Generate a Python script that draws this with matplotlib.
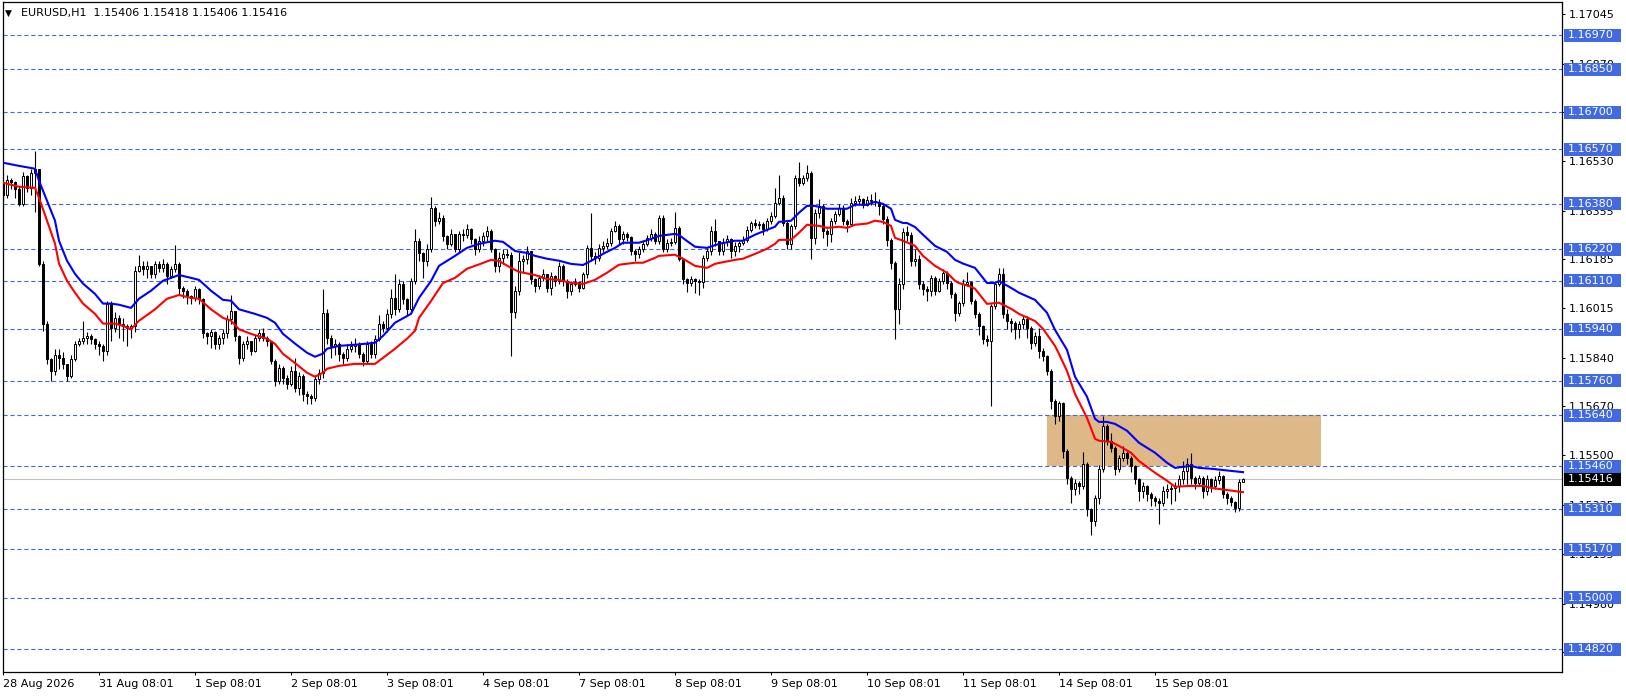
import matplotlib
matplotlib.use("Agg")
import matplotlib.pyplot as plt
from matplotlib.patches import Rectangle
from matplotlib.transforms import blended_transform_factory

# EURUSD H1 candles, stored as pips above 1.15000, open = previous close
base = 1.15
pip = 0.0001
first_open = 145

closes = [141, 146.3, 145.5, 143, 138, 147.7, 143.5, 148.7, 150, 117,
          96, 83.6, 79.5, 85, 84, 82, 77.7, 83.6, 89, 90,
          91, 91.5, 90.5, 89, 88, 86.5, 103, 94.5, 98, 96,
          95, 94.5, 95, 114.5, 116, 115, 116, 113.5, 117, 115.5,
          117, 112.7, 115, 117, 108.5, 107.5, 105.7, 105, 108, 104.7,
          92.7, 91.7, 93, 89, 91, 92.7, 97.6, 100.5, 91.7, 84,
          89, 90, 86.5, 91, 92.7, 91, 90, 83, 76, 80.5,
          77, 75, 79.5, 73.5, 77.7, 71.4, 70.7, 70, 76.6, 78.8,
          99.7, 91, 88, 89, 85.4, 84, 87, 88.2, 89, 85.4,
          83, 89, 85.4, 90.7, 96, 94.5, 99.4, 105, 101, 110,
          104.7, 101, 111, 125, 120.7, 118, 122, 136.5, 132, 133,
          126.7, 123.9, 127.4, 122, 127.4, 127, 129, 125.6, 122, 125,
          126.5, 128.5, 122, 116, 119, 120.5, 120, 100, 107.5, 118,
          118.5, 121.5, 111.6, 109, 112, 113.4, 108.5, 112.7, 111, 116,
          111, 107.5, 110, 110.5, 108.5, 113.4, 122.5, 119.7, 119, 122.5,
          123.2, 124.3, 128.5, 130, 125.6, 127.4, 126.2, 121.5, 120.4, 122,
          123.9, 126, 127.4, 125, 133, 122, 124.3, 124.6, 129.5, 118.7,
          111.6, 110.2, 111.6, 110.9, 110.6, 119, 121.5, 128.5, 125, 121.5,
          124.6, 125.6, 121.5, 123.2, 124.3, 125.3, 128.8, 131.2, 130.5, 130.9,
          129, 132, 133.7, 138.2, 140, 131.2, 123.9, 130.2, 147, 145.3,
          147, 148.8, 126, 134.8, 137.2, 128.5, 127.5, 132, 134.4, 136.5,
          132, 130.9, 138.2, 139, 139.5, 137.6, 139.3, 139, 138.5, 137,
          132.7, 125.3, 117.3, 101.2, 110, 128, 127, 118, 118.7, 110,
          108, 107.5, 112, 107.5, 111, 113.8, 110.2, 106.4, 99.7, 103.2,
          110, 110.5, 104, 99.4, 95.2, 90.7, 90, 102.2, 110, 113.4,
          99.4, 97, 96.3, 94.2, 95.9, 97.6, 94.5, 89.2, 91.7, 86.5,
          84.7, 79.4, 69, 63.7, 68.2, 51.5, 42, 38.2, 40.2, 39,
          47, 31, 27, 35, 45, 60.2, 55, 52.5, 45, 49,
          50.8, 49, 46.2, 41.6, 37.5, 39.2, 36.4, 35, 34, 33.3,
          37.5, 38, 38.5, 39, 41.6, 44.5, 47, 42, 40.2, 42,
          37.5, 41.5, 39, 41.3, 42.5, 36.4, 35, 33.6, 31.5, 40.6,
          41.6]

highs = [146, 148, 147, 146, 144, 149, 148, 150, 156.5, 150,
         118, 97, 84, 87, 87, 86, 82, 85, 90, 91,
         97, 93, 92.5, 91, 90, 89, 104, 104, 100, 99,
         98, 96, 96, 116, 120, 118, 118, 116, 118, 118,
         118.5, 117.5, 116, 123.5, 117.5, 109, 108, 106, 109, 108.5,
         105, 93, 94, 93.5, 92, 94, 99, 106, 100, 92,
         90, 91.5, 90, 92, 94, 94.5, 91.5, 90, 83.5, 82,
         81, 78, 81, 84, 79, 78.5, 72.5, 71.5, 78, 80,
         108, 101, 92, 90.5, 89.5, 86, 89, 90, 91, 89.5,
         86, 90, 90, 92, 99, 97, 101, 108, 113.4, 111.5,
         111, 105, 112, 129, 126, 121, 124, 140.3, 137, 135,
         134, 127, 129, 127.5, 128.5, 129, 131, 129.5, 126, 126.5,
         128, 130, 129, 122.5, 121, 122, 122, 121, 109, 121,
         120, 123, 121, 112, 113, 115, 113.5, 114, 113, 117.5,
         117, 111.5, 111, 112, 111, 114, 123.5, 134.8, 121, 124,
         125, 126, 129.5, 132, 131, 128.5, 128, 126.5, 122, 123,
         125, 127, 129, 128, 134, 134, 125.5, 126, 135, 130,
         119, 112, 112.5, 112, 111.5, 120, 122.5, 130, 132.7, 125,
         126, 127, 126, 124.5, 125, 126.5, 130, 132, 132.5, 132,
         131.5, 133, 135, 143.5, 148, 141, 132, 131, 148, 152.4,
         148, 151.6, 149.5, 136, 139.5, 138, 129, 133, 135.5, 138,
         137.5, 132.5, 140, 140.5, 141, 140, 140.5, 141.5, 142, 139.5,
         138, 133.5, 126, 118, 112, 129.5, 130, 128, 122, 120,
         111, 109, 113, 112.5, 112, 115, 114.5, 111, 107, 104,
         111.5, 114, 111, 104.5, 100, 95.5, 92, 103, 111, 115.5,
         115.5, 101, 98, 97, 97, 99, 98.5, 95, 93, 94.5,
         87.5, 85, 80, 69.5, 69, 68.5, 52, 42.5, 41.5, 41,
         51, 47.5, 31.5, 36, 46.5, 63.7, 61, 57.7, 53, 50,
         53, 51.5, 49.5, 46.5, 42, 40.5, 39.5, 37, 35.5, 35,
         39, 40, 39.5, 40.5, 43, 48, 49, 50.8, 42.5, 43,
         42.5, 43, 42, 42.5, 44.5, 43, 37, 35.5, 34, 41.5,
         41.8]

lows = [139, 140, 143, 140, 137, 137, 142, 141, 135, 116,
        93.5, 82, 76, 78, 80, 80, 76, 77, 83, 88,
        89, 89, 89, 87, 85, 83, 85, 90, 93, 91,
        90, 88, 91, 93, 114, 113, 112, 112, 112, 114,
        114, 110, 112, 114, 106, 105, 103, 103, 104, 103,
        91, 89, 87.5, 87, 87, 89, 91, 96, 90, 82,
        83, 87, 85, 86, 90, 90, 88, 82, 74, 75,
        75, 73, 74, 72, 71, 69, 68, 68, 69, 75,
        77, 89, 84, 85, 83, 82, 83, 86, 86, 84,
        81, 82, 84, 84, 90, 93, 93, 98, 99, 100,
        103, 99, 100, 110, 118, 112, 116, 121, 130, 131,
        125, 122, 123, 121, 121, 125, 126, 124, 120, 121,
        123, 125, 121, 114, 114, 117, 119, 84.7, 98, 106,
        114, 117, 110, 107, 108, 111, 107, 106, 109, 110,
        109, 105, 106, 109, 107, 108, 112, 118, 117, 118,
        121, 122, 123, 128, 124, 124, 125, 120, 118, 119,
        121, 123, 125, 124, 124, 121, 121, 123, 124, 118,
        110, 107, 109, 106.7, 106, 108.5, 118, 120, 123, 120,
        120, 123, 119, 119.5, 121, 123.5, 124.5, 128, 129.5, 129,
        127, 128.5, 131, 133, 137.5, 130, 122, 122, 129, 144,
        144.5, 146, 118.7, 124, 133, 126, 123, 124.5, 131, 133.5,
        130.5, 128, 130, 137, 138, 136.5, 137, 137.5, 137, 134,
        131, 123, 115, 90.7, 96, 108, 125, 116, 116, 108,
        106, 104, 105.5, 106, 107, 110, 108, 105, 97, 98.5,
        102, 109, 103, 98, 92, 89, 88, 67.2, 101, 109,
        98, 94, 93, 90.7, 91, 94, 91, 87, 88, 84,
        83, 78, 66, 61, 62, 49, 40, 33.3, 36, 36.5,
        38, 28.7, 22, 25, 33, 44, 53.5, 51, 43, 44,
        48, 47, 44, 40, 34, 35, 34, 32, 32, 26,
        32, 35, 33, 34, 37, 40, 40, 40, 38, 39,
        35, 36, 37, 38, 40, 35, 33, 32, 30, 30.5,
        40.6]

# moving averages (bar index, pips above 1.15000)
blue_bars = [0, 4, 8, 9, 11, 13, 14, 16, 18, 20, 23, 25, 27, 29, 32, 34, 37, 40, 44, 47,
             49, 52, 55, 57, 59, 63, 66, 68, 70, 73, 76, 78, 80, 81, 84, 88, 91, 93, 95, 98,
             102, 104, 107, 109, 113, 116, 119, 123, 125, 127, 128, 131, 133, 136, 139, 142, 145, 148, 150, 153,
             155, 159, 162, 164, 168, 169, 171, 173, 176, 179, 183, 185, 188, 191, 193, 194, 197, 199, 201, 203,
             205, 206, 211, 213, 216, 218, 220, 222, 223, 225, 226, 228, 230, 233, 236, 238, 240, 243, 246, 248,
             249, 252, 254, 258, 261, 263, 266, 268, 271, 273, 274, 276, 278, 281, 284, 288, 291, 293, 297, 299,
             302, 310]
blue_ma = [152.3, 151.2, 150.2, 146, 139, 132, 125, 118, 113.4, 110, 106.4, 103, 103, 102.6, 101.5, 104.7, 107.5, 111, 113, 112,
           111.3, 107.5, 104.3, 104, 101, 99.4, 98, 96.3, 92.4, 89, 85.8, 84.4, 85.5, 87.2, 88.2, 88.6, 89, 89.3, 91.7, 96.3,
           99.4, 105, 110.9, 116.2, 119.7, 122.5, 123.9, 125, 124.6, 122.5, 121.4, 120.7, 119.7, 118.7, 118, 116.9, 116.5, 118.7, 120.4, 122.5,
           124.3, 124.3, 125.6, 126.7, 127.4, 127, 124.9, 122.9, 122.5, 123.9, 125, 125, 127.1, 128.8, 129.9, 131.6, 132, 134.8, 137.2, 137.2,
           136.5, 136.2, 136.2, 137.6, 137.6, 138.6, 137.9, 136.2, 132.3, 131.2, 131.2, 129.8, 127.1, 123.2, 121.1, 118.3, 117, 115.5, 110.2, 110.2,
           110.9, 108.5, 106.8, 104.3, 99.8, 93.8, 86.8, 77.4, 70.4, 62.7, 61.6, 61.6, 60.9, 58.5, 54.3, 50.8, 47.3, 45.5, 46.2, 45.5,
           45.2, 44]

red_bars = [0, 4, 8, 9, 11, 13, 14, 16, 18, 20, 23, 25, 28, 30, 32, 34, 38, 41, 44, 47,
            49, 52, 55, 57, 59, 62, 66, 68, 70, 73, 76, 78, 80, 81, 84, 88, 93, 95, 98, 101,
            103, 104, 107, 110, 113, 116, 119, 122, 124, 127, 129, 133, 136, 139, 142, 145, 148, 151, 154, 158,
            160, 163, 164, 168, 170, 173, 176, 178, 180, 183, 185, 188, 191, 193, 194, 197, 199, 201, 204, 206,
            209, 211, 213, 216, 218, 220, 222, 223, 225, 228, 230, 233, 236, 238, 239, 242, 243, 246, 249, 252,
            254, 258, 260, 263, 264, 266, 268, 271, 273, 274, 277, 279, 282, 284, 288, 291, 293, 297, 300, 302,
            310]
red_ma = [145.3, 143.9, 143.5, 140, 132, 124, 117, 111, 106.8, 103, 99.4, 96, 96, 95.2, 94, 97, 101, 104.7, 106, 105,
          104.7, 101, 98, 97, 94, 92.4, 90.7, 88.9, 85.4, 82.2, 78.8, 77.4, 78.8, 80.2, 81.2, 81.9, 81.9, 84, 87.2, 90.7,
          93.5, 98, 103.9, 110.2, 112, 115.2, 116.7, 118.3, 117.9, 115.5, 114.1, 113, 111.6, 111.3, 110.2, 109.9, 111.3, 113.8, 116.6, 117.3,
          117.3, 119, 119.7, 120.1, 118.7, 116.2, 115.5, 116.9, 117.5, 118.3, 118.7, 120.4, 122.2, 123.9, 125.3, 125.3, 127.8, 130.6, 130.2, 129.5,
          129.9, 129.5, 130.6, 131, 132, 131.6, 130.2, 126, 125, 123.2, 119.7, 116.2, 113.8, 111, 110.2, 108.9, 108.2, 102.9, 103.3, 101.2,
          99.4, 96.9, 94.2, 88.2, 85.4, 79.4, 71.4, 63, 55.7, 55, 54.6, 53.2, 50.8, 47.9, 43.8, 41, 38.9, 39.2, 39.2, 38.5,
          37]

# horizontal levels drawn on the chart
levels = [1.16970, 1.16850, 1.16700, 1.16570, 1.16380, 1.16220, 1.16110, 1.15940,
          1.15760, 1.15640, 1.15460, 1.15310, 1.15170, 1.15000, 1.14820]
price_ticks = [1.17045, 1.16870, 1.16700, 1.16530, 1.16355, 1.16185, 1.16015,
               1.15840, 1.15670, 1.15500, 1.15325, 1.15155, 1.14980, 1.14810]
bid = 1.15416
zone_top, zone_bottom = 1.15640, 1.15460
zone_start, zone_end = 261, 329.5

date_ticks = [0, 24, 48, 72, 96, 120, 144, 168, 192, 216, 240, 264, 288]
date_labels = ["28 Aug 2026", "31 Aug 08:01", "1 Sep 08:01", "2 Sep 08:01", "3 Sep 08:01",
               "4 Sep 08:01", "7 Sep 08:01", "8 Sep 08:01", "9 Sep 08:01", "10 Sep 08:01",
               "11 Sep 08:01", "14 Sep 08:01", "15 Sep 08:01"]

title = "EURUSD,H1  1.15406 1.15418 1.15406 1.15416"

level_blue = "#4169E1"
W, H = 1626, 696

plt.rcParams["lines.scale_dashes"] = False
plt.rcParams["font.family"] = ["DejaVu Sans"]
fs = 8

fig = plt.figure(figsize=(W / 100, H / 100), dpi=100)
ax = fig.add_axes([2.5 / W, (H - 672) / H, (1562 - 2.5) / W, (672 - 2) / H])

n = len(closes)
opens = [first_open] + closes[:-1]
xs = list(range(n))
o = [base + v * pip for v in opens]
c = [base + v * pip for v in closes]
hi = [base + max(h, a, b) * pip for h, a, b in zip(highs, opens, closes)]
lo = [base + min(l, a, b) * pip for l, a, b in zip(lows, opens, closes)]

# supply zone rectangle (background)
ax.add_patch(Rectangle((zone_start, zone_bottom), zone_end - zone_start, zone_top - zone_bottom,
                       facecolor="#DEB887", edgecolor="none", zorder=0.5))

for lv in levels:
    ax.axhline(lv, color=level_blue, lw=0.8, ls=(0, (3, 2)), zorder=1)
ax.axhline(bid, color="#C0C0C0", lw=0.8, zorder=1)

# candles
ax.vlines(xs, lo, hi, color="black", lw=0.8, zorder=2)
up = [b >= a for a, b in zip(o, c)]
bottoms = [min(a, b) for a, b in zip(o, c)]
heights = [max(abs(b - a), 0.3 * pip) for a, b in zip(o, c)]
ax.bar(xs, heights, bottom=bottoms, width=0.5,
       color=["white" if u else "black" for u in up],
       edgecolor="black", linewidth=0.7, zorder=3)

ax.plot(red_bars, [base + v * pip for v in red_ma], color="#FF0000", lw=1.5, zorder=4)
ax.plot(blue_bars, [base + v * pip for v in blue_ma], color="#0000FF", lw=1.5, zorder=4)

ax.set_xlim(-0.125, 389.75)
ax.set_ylim(1.1697 - 637 / 28573, 1.1697 + 33 / 28573)

ax.yaxis.tick_right()
ax.set_yticks(price_ticks)
ax.set_yticklabels([f"{p:.5f}" for p in price_ticks], fontsize=fs)
ax.tick_params(axis="y", direction="out", length=2.2, width=0.75, pad=3)
ax.set_xticks(date_ticks)
ax.set_xticklabels(date_labels, fontsize=fs)
for lbl in ax.get_xticklabels():
    lbl.set_horizontalalignment("left")
ax.tick_params(axis="x", direction="out", length=2.5, width=0.75, pad=2.5)
for s in ax.spines.values():
    s.set_linewidth(0.9)

# price labels on the right axis
tr = blended_transform_factory(ax.transAxes, ax.transData)
ax_w = 1562 - 2.5
bx0 = (1564 - 2.5) / ax_w
bw = (1621 - 1564) / ax_w
tx = (1568 - 2.5) / ax_w
bh = 13 / 28573
for lv in levels:
    ax.add_patch(Rectangle((bx0, lv - bh / 2), bw, bh, transform=tr, clip_on=False,
                           facecolor=level_blue, edgecolor="none", zorder=5))
    ax.text(tx, lv, f"{lv:.5f}", transform=tr, color="white", fontsize=fs,
            va="center", ha="left", clip_on=False, zorder=6)
ax.add_patch(Rectangle((bx0, bid - bh / 2), bw, bh, transform=tr, clip_on=False,
                       facecolor="black", edgecolor="none", zorder=5))
ax.text(tx, bid, f"{bid:.5f}", transform=tr, color="white", fontsize=fs,
        va="center", ha="left", clip_on=False, zorder=6)

fig.text(5 / W, 1 - 13 / H, "\u25bc", fontsize=6.5, va="center", ha="left")
fig.text(21 / W, 1 - 13 / H, title, fontsize=fs, va="center", ha="left")

fig.savefig("out.png", dpi=100)
